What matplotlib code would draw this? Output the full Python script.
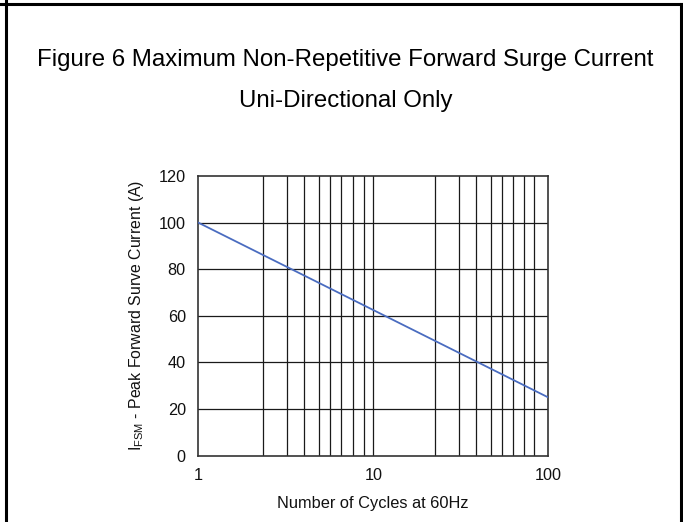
"""Figure 6 surge current chart
"""
import matplotlib
matplotlib.use("Agg")
import matplotlib.pyplot as plt
from matplotlib.ticker import FixedLocator, NullFormatter
from matplotlib.lines import Line2D


cycles = [1, 100]
surge_current = [100, 25]

x_ticks = [1, 10, 100]
x_tick_labels = ["1", "10", "100"]
y_ticks = [0, 20, 40, 60, 80, 100, 120]
# vertical grid as drawn in the source (not exact decade spacing)
x_grid = [2.33, 3.22, 4.03, 4.89, 5.65, 6.53, 7.62, 8.85, 10,
          22.5, 31, 38.6, 46.9, 54.2, 62.6, 72.6, 83.2]

title_1 = "Figure 6 Maximum Non-Repetitive Forward Surge Current"
title_2 = "Uni-Directional Only"
x_label = "Number of Cycles at 60Hz"
y_label = r"I$_{\mathregular{FSM}}$ - Peak Forward Surve Current (A)"


def main():
    plt.rcParams["font.family"] = ["Liberation Sans", "DejaVu Sans"]
    plt.rcParams["mathtext.fontset"] = "custom"
    plt.rcParams["mathtext.rm"] = "Liberation Sans"

    W, H = 683.0, 522.0
    fig = plt.figure(figsize=(6.83, 5.22), dpi=100)
    ax = fig.add_axes([0.2903, 0.127, 0.5125, 0.5358])

    ax.plot(cycles, surge_current, color="#4a6cc0", lw=1.3, zorder=3)

    ax.set_xscale("log")
    ax.set_xlim(1, 100)
    ax.set_ylim(0, 120)
    ax.xaxis.set_major_locator(FixedLocator(x_ticks))
    ax.set_xticklabels(x_tick_labels)
    ax.xaxis.set_minor_locator(FixedLocator(x_grid))
    ax.xaxis.set_minor_formatter(NullFormatter())
    ax.set_yticks(y_ticks)

    ax.grid(False)
    for xv in x_grid:
        ax.axvline(xv, color="#1a1a1a", lw=0.9, zorder=1)
    for yv in y_ticks[1:-1]:
        ax.axhline(yv, color="#1a1a1a", lw=0.9, zorder=1)

    ax.tick_params(which="both", length=0, labelsize=11.7, pad=9,
                   colors="#111111")
    for s in ax.spines.values():
        s.set_color("#333333")
        s.set_linewidth(1.2)

    ax.set_xlabel(x_label, fontsize=11.8, labelpad=9, color="#111111")
    ax.set_ylabel(y_label, fontsize=11.4, labelpad=9, color="#111111")

    fig.text(345.5 / W, 1 - 66 / H, title_1, ha="center", va="baseline",
             fontsize=17.3)
    fig.text(345.5 / W, 1 - 107.5 / H, title_2, ha="center", va="baseline",
             fontsize=17.3)

    # cell border around the figure
    border = dict(color="black", lw=2.2, transform=fig.transFigure)
    fig.add_artist(Line2D([0, 681 / W], [1 - 4 / H, 1 - 4 / H], **border))
    fig.add_artist(Line2D([6 / W, 6 / W], [0, 1], **border))
    fig.add_artist(Line2D([681 / W, 681 / W], [0, 1 - 4 / H], **border))

    fig.savefig("out.png", dpi=100)


main()
